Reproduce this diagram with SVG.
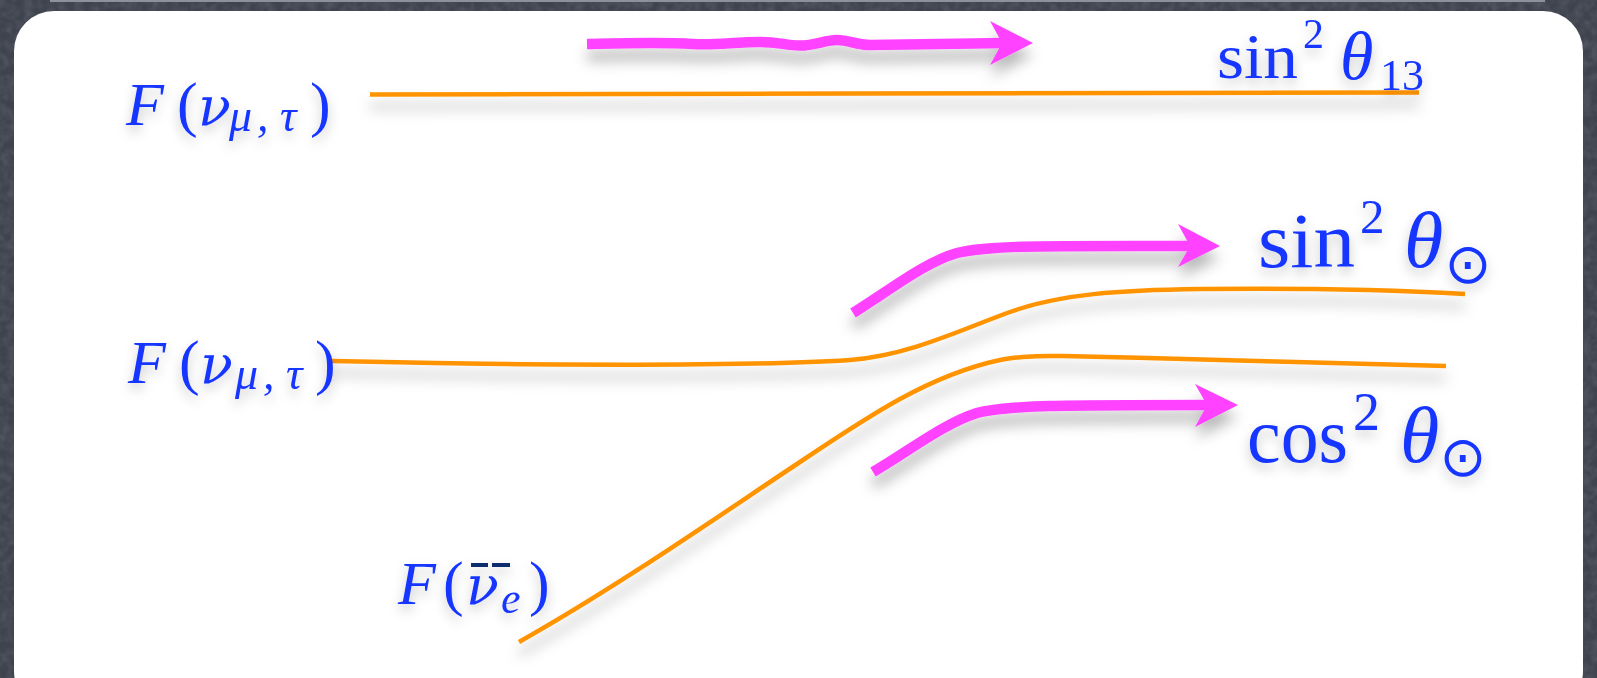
<svg xmlns="http://www.w3.org/2000/svg" width="1597" height="678" viewBox="0 0 1597 678">
<defs>
<style>
.m{font-family:"Liberation Serif","DejaVu Serif",serif;fill:#1536ff}
.g{font-family:"DejaVu Serif","Liberation Serif",serif;fill:#1536ff;font-style:italic}
.it{font-style:italic}
.or{fill:none;stroke:#ff9400;stroke-width:4.5;stroke-linecap:butt}
.pk{fill:none;stroke:#ff42ff;stroke-width:10.5}
.hd{fill:#ff42ff}
.od{font-family:"DejaVu Sans",sans-serif;fill:#1536ff}
</style>
<filter id="sh" filterUnits="userSpaceOnUse" x="0" y="0" width="1597" height="678">
<feDropShadow dx="0" dy="12" stdDeviation="7" flood-color="#000" flood-opacity="0.28"/>
</filter>
<filter id="tsh" filterUnits="userSpaceOnUse" x="0" y="0" width="1597" height="678">
<feDropShadow dx="0" dy="6" stdDeviation="6" flood-color="#000" flood-opacity="0.22"/>
</filter>
<filter id="noise" filterUnits="userSpaceOnUse" x="0" y="0" width="1597" height="678">
<feTurbulence type="fractalNoise" baseFrequency="0.12" numOctaves="2" seed="4"/>
<feColorMatrix type="matrix" values="0 0 0 0 0.45  0 0 0 0 0.47  0 0 0 0 0.53  0.3 0 0 0 -0.1"/>
</filter>
</defs>
<rect x="0" y="0" width="1597" height="678" fill="#3f434e"/>
<rect x="0" y="0" width="1597" height="678" filter="url(#noise)"/>
<rect x="50" y="0" width="1495" height="2" fill="#8d919a"/>
<rect x="14" y="11" width="1569" height="700" rx="40" ry="40" fill="#ffffff"/>

<g id="connectors">
<g filter="url(#sh)">
<path class="or" d="M370,94.5 C700,94 1100,93 1419,92.5"/>
<path class="or" d="M332,361 C550,366 760,366 850,360 C910,355 960,330 1010,312 C1060,294 1120,290 1200,289 C1300,288 1380,289 1465,294"/>
<path class="or" d="M519,642 C620,585 720,515 800,462 C870,415 930,375 1000,360 C1025,355 1045,356 1062,356 C1200,359 1350,363 1446,366"/>
</g>
<g filter="url(#sh)">
<path class="pk" stroke-width="11" d="M587,44 C630,43 660,42 693,44 C715,45.5 735,42 760,42 C780,42 785,45.5 800,45.5 C815,45.5 825,40 837,40 C850,40 855,45 870,45 C920,44.5 960,44 1003,43"/>
<polygon class="hd" points="1033,43 990,21 1002,43 990,65"/>
<path class="pk" d="M853,313 C890,290 925,262 957,253 C990,245 1050,246 1192,246"/>
<polygon class="hd" points="1220,246 1178,224 1190,246 1178,267"/>
<path class="pk" d="M873,472 C910,450 945,423 977,413 C1010,405 1060,405 1209,405"/>
<polygon class="hd" points="1238,405 1195,384 1207,405 1195,427"/>
</g>
</g>

<g id="label-F-numutau-top" filter="url(#tsh)">
<text class="m it" x="126" y="125" font-size="62">F</text>
<text class="m" x="177" y="125" font-size="62">(</text>
<text class="g" x="198" y="125" font-size="54">ν</text>
<text class="m it" x="229" y="131" font-size="46">μ</text>
<text class="m it" x="257" y="131" font-size="46">,</text>
<text class="m it" x="280" y="131" font-size="46">τ</text>
<text class="m" x="310" y="125" font-size="62">)</text>
</g>

<g id="label-F-numutau-mid" filter="url(#tsh)">
<text class="m it" x="128" y="383" font-size="62">F</text>
<text class="m" x="179" y="383" font-size="62">(</text>
<text class="g" x="200" y="383" font-size="54">ν</text>
<text class="m it" x="235" y="389" font-size="46">μ</text>
<text class="m it" x="263" y="389" font-size="46">,</text>
<text class="m it" x="286" y="389" font-size="46">τ</text>
<text class="m" x="315" y="383" font-size="62">)</text>
</g>

<g id="label-F-nuebar" filter="url(#tsh)">
<text class="m it" x="398" y="604" font-size="62">F</text>
<text class="m" x="443" y="604" font-size="62">(</text>
<text class="g" x="466" y="604" font-size="54">ν</text>
<line x1="471" y1="565" x2="488" y2="565" stroke="#0b2d6e" stroke-width="4"/>
<line x1="492" y1="565" x2="510" y2="565" stroke="#0b2d6e" stroke-width="4"/>
<text class="m it" x="501" y="613" font-size="44">e</text>
<text class="m" x="529" y="604" font-size="62">)</text>
</g>

<g id="label-sin2-theta13" filter="url(#tsh)">
<text class="m" x="1217" y="78" font-size="64" textLength="81" lengthAdjust="spacingAndGlyphs">sin</text>
<text class="m" x="1303" y="48" font-size="42">2</text>
<text class="m it" x="1340" y="79" font-size="68">θ</text>
<text class="m" x="1380" y="90" font-size="44">13</text>
</g>

<g id="label-sin2-thetasun" filter="url(#tsh)">
<text class="m" x="1258" y="267" font-size="78" textLength="97" lengthAdjust="spacingAndGlyphs">sin</text>
<text class="m" x="1360" y="233" font-size="49">2</text>
<text class="m it" x="1404" y="267" font-size="80">θ</text>
<text class="od" x="1468" y="283" font-size="56" text-anchor="middle">⊙</text>
</g>

<g id="label-cos2-thetasun" filter="url(#tsh)">
<text class="m" x="1247" y="462" font-size="78" textLength="101" lengthAdjust="spacingAndGlyphs">cos</text>
<text class="m" x="1353" y="430" font-size="54">2</text>
<text class="m it" x="1400" y="462" font-size="80">θ</text>
<text class="od" x="1463" y="476" font-size="56" text-anchor="middle">⊙</text>
</g>
</svg>
